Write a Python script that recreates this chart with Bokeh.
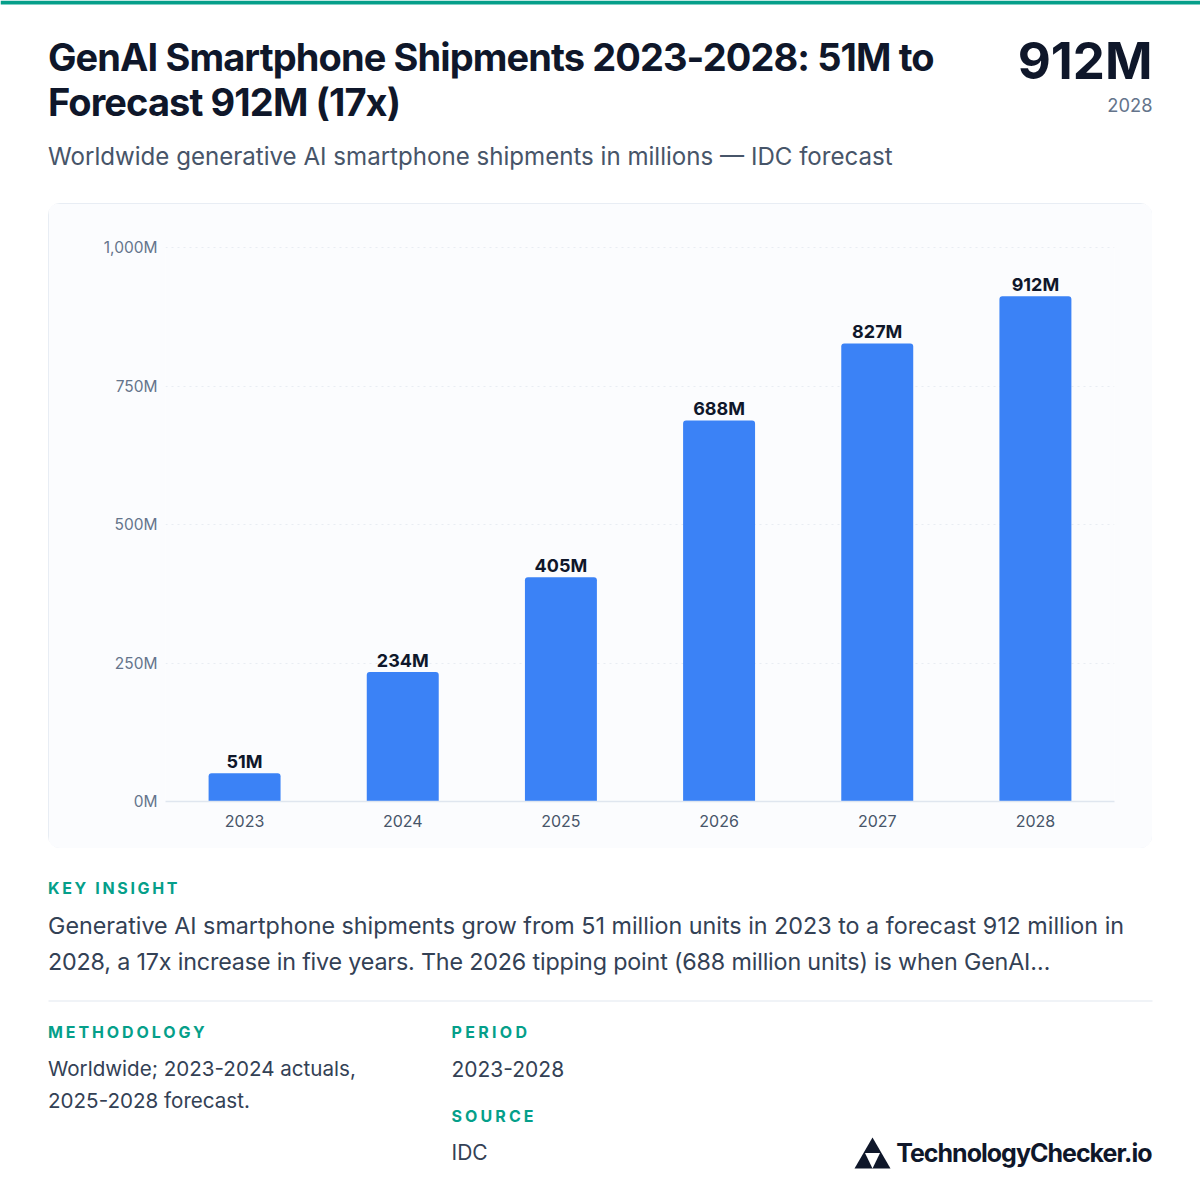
from bokeh.embed import file_html
from bokeh.resources import INLINE
from bokeh.plotting import figure
from bokeh.layouts import column
from bokeh.io import curdoc
from bokeh.core.properties import value as V
from bokeh.models import (ColumnDataSource, LabelSet, Label, BoxAnnotation, PolyAnnotation,
                          FixedTicker, Range1d, CustomJS)

years = ["2023", "2024", "2025", "2026", "2027", "2028"]
shipments = [51, 234, 405, 688, 827, 912]
value_labels = ["51M", "234M", "405M", "688M", "827M", "912M"]
y_ticks = [0, 250, 500, 750, 1000]
y_tick_labels = ["0M", "250M", "500M", "750M", "1,000M"]

title_lines = ["GenAI Smartphone Shipments 2023-2028: 51M to", "Forecast 912M (17x)"]
subtitle = "Worldwide generative AI smartphone shipments in millions \u2014 IDC forecast"
big_value = "912M"
big_value_caption = "2028"
insight_lines = ["Generative AI smartphone shipments grow from 51 million units in 2023 to a forecast 912 million in",
                 "2028, a 17x increase in five years. The 2026 tipping point (688 million units) is when GenAI\u2026"]
method_lines = ["Worldwide; 2023-2024 actuals,", "2025-2028 forecast."]
brand = "TechnologyChecker.io"
section_heads = ["KEY INSIGHT", "METHODOLOGY", "PERIOD", "SOURCE"]

W = 1200
HEAD_H, CARD_H, FOOT_H = 203, 645, 352
DARK = "#0f172a"
TEAL = "#059f8a"
FONT = "Inter"

def panel(h, top):
    f = figure(width=W, height=h, x_range=Range1d(0, W), y_range=Range1d(top + h, top),
               output_backend="svg", toolbar_location=None, x_axis_location=None, y_axis_location=None,
               min_border=0, min_border_left=0, min_border_right=0, min_border_top=0, min_border_bottom=0,
               frame_align=False)
    f.grid.visible = False
    f.outline_line_color = None
    f.border_fill_color = "#ffffff"
    f.background_fill_color = "#ffffff"
    return f

def text(f, x, y, s, size, color, bold=False, align="left"):
    f.add_layout(Label(x=x, y=y, text=s, text_font=FONT, text_font_size=f"{size}px", text_color=color,
                       text_font_style="bold" if bold else "normal",
                       text_align=align, text_baseline="alphabetic"))

def rule(f, left, right, top, bottom, color):
    f.add_layout(BoxAnnotation(left=left, right=right, top=top, bottom=bottom, fill_color=color,
                               fill_alpha=1, line_color=None))

# header
head = panel(HEAD_H, 0)
rule(head, 0, W, 0, 4, TEAL)
text(head, 47.5, 56, title_lines[0], 38, DARK, True)
text(head, 47.5, 101, title_lines[1], 38, DARK, True)
text(head, 1152, 60, big_value, 51, DARK, True, "right")
text(head, 1152, 104.5, big_value_caption, 18.3, "#64748b", False, "right")
text(head, 47.5, 155.8, subtitle, 24.1, "#475569")

# chart card
p = figure(width=1104, height=CARD_H, x_range=years, y_range=Range1d(0, 1002), output_backend="svg",
           toolbar_location=None, min_border_left=117, min_border_right=38,
           min_border_top=43, min_border_bottom=47, frame_align=False)
p.margin = (0, 48, 0, 48)
p.styles = {"border-radius": "12px", "overflow": "hidden", "outline": "1px solid #e2e8f0", "outline-offset": "-1px"}
p.outline_line_color = None
p.background_fill_color = "#fbfcfe"
p.border_fill_color = "#fbfcfe"

p.xaxis.axis_line_color = "#dfe6ef"
p.xaxis.axis_line_width = 1.5
p.xaxis.major_tick_line_color = None
p.xaxis.minor_tick_line_color = None
p.xaxis.major_label_text_font = FONT
p.xaxis.major_label_text_font_size = "16px"
p.xaxis.major_label_text_color = "#475569"
p.xaxis.major_label_standoff = 7
p.xgrid.visible = False

p.yaxis.ticker = FixedTicker(ticks=y_ticks)
p.yaxis.major_label_overrides = {t: s for t, s in zip(y_ticks, y_tick_labels)}
p.yaxis.axis_line_color = None
p.yaxis.major_tick_line_color = None
p.yaxis.minor_tick_line_color = None
p.yaxis.major_label_text_font = FONT
p.yaxis.major_label_text_font_size = "15.5px"
p.yaxis.major_label_text_color = "#64748b"
p.yaxis.major_label_standoff = 2
p.ygrid.grid_line_color = "#e8edf3"
p.ygrid.grid_line_width = 1
p.ygrid.grid_line_dash = [2, 4]

source = ColumnDataSource(dict(year=years, value=shipments, label=value_labels))
p.vbar(x="year", top="value", width=0.455, source=source, fill_color="#3b82f6",
       line_color=None, border_radius=(3, 3, 0, 0))
p.add_layout(LabelSet(x="year", y="value", text="label", source=source, y_offset=5,
                      text_align="center", text_baseline="alphabetic", text_font=V(FONT),
                      text_font_style="bold", text_font_size="18px", text_color=DARK))

# footer
foot = panel(FOOT_H, CARD_H + HEAD_H)
text(foot, 47.5, 887.5, section_heads[0], 16, TEAL, True)
text(foot, 47.5, 925, insight_lines[0], 23.3, "#334155")
text(foot, 47.5, 961, insight_lines[1], 23.3, "#334155")
rule(foot, 48, 1152, 1000, 1001, "#e2e8f0")
text(foot, 47.5, 1031.5, section_heads[1], 16, TEAL, True)
text(foot, 47.5, 1068, method_lines[0], 20.6, "#334155")
text(foot, 47.5, 1100, method_lines[1], 20.6, "#334155")
text(foot, 451, 1031.5, section_heads[2], 16, TEAL, True)
text(foot, 451, 1068, "2023-2028", 21, "#334155")
text(foot, 451, 1115.5, section_heads[3], 16, TEAL, True)
text(foot, 451, 1152, "IDC", 21, "#334155")

foot.add_layout(PolyAnnotation(xs=[872, 890, 854], ys=[1137, 1168, 1168], fill_color=DARK, fill_alpha=1, line_color=None))
foot.add_layout(PolyAnnotation(xs=[864.5, 879.5, 872], ys=[1152.5, 1152.5, 1168], fill_color="#ffffff", fill_alpha=1, line_color=None))
text(foot, 1171, 1152.5, brand, 25, DARK, True, "right")

page = column(head, p, foot, spacing=0)

# tracking of the titles and section heads, as set in the reference
tracking = {title_lines[0]: -0.9, title_lines[1]: -0.9, brand: -1.0, insight_lines[1]: -0.17,
            section_heads[0]: 2.65, section_heads[1]: 2.9, section_heads[2]: 3.3, section_heads[3]: 3.1}
apply_tracking = CustomJS(args=dict(tracking=tracking), code="""
    const walk = (root) => {
        root.querySelectorAll('*').forEach((el) => {
            if (el.shadowRoot) walk(el.shadowRoot);
            if (el.tagName.toLowerCase() === 'text' && el.textContent in tracking) {
                el.setAttribute('letter-spacing', tracking[el.textContent]);
            }
        });
    };
    [100, 400, 1000].forEach((t) => setTimeout(() => walk(document), t));
""")
doc = curdoc()
doc.add_root(page)
doc.js_on_event("document_ready", apply_tracking)
open("out.html", "w").write(file_html(doc, INLINE))
